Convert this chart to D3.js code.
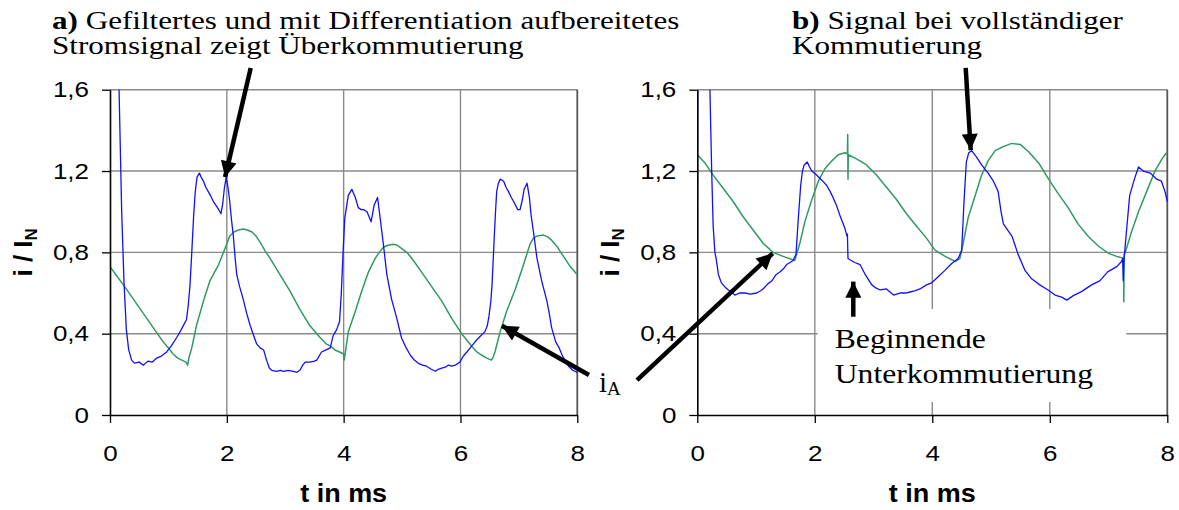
<!DOCTYPE html>
<html><head><meta charset="utf-8">
<script src="https://cdn.jsdelivr.net/npm/d3@7/dist/d3.min.js"></script>
<style>
html,body{margin:0;padding:0;background:#fff;}
svg{display:block;}
</style></head>
<body>
<svg id="c" width="1179" height="510"></svg>
<script>
// ---------- data ----------
const xTicks = [0, 2, 4, 6, 8];
const yTicks = [0, 0.4, 0.8, 1.2, 1.6];
const yTickLabels = ["0", "0,4", "0,8", "1,2", "1,6"];

// panel a) – blue: filtered / differentiated signal, green: i_A
const aBlue = [[0,0.54],[0.01,2.2],[0.12,2.2],[0.155,1.6],[0.2,1.0],[0.24,0.65],[0.28,0.42],[0.32,0.32],[0.37,0.27],[0.42,0.255],[0.5,0.26],[0.57,0.245],[0.65,0.265],[0.72,0.26],[0.8,0.28],[0.88,0.29],[0.97,0.31],[1.05,0.34],[1.14,0.38],[1.22,0.42],[1.31,0.47],[1.34,0.54],[1.37,0.64],[1.40,0.8],[1.43,0.97],[1.46,1.1],[1.49,1.17],[1.53,1.19],[1.56,1.17],[1.6,1.15],[1.64,1.12],[1.68,1.10],[1.72,1.08],[1.77,1.05],[1.84,1.02],[1.9,0.99],[1.93,1.04],[1.96,1.12],[1.99,1.17],[2.02,1.12],[2.05,1.05],[2.08,0.96],[2.11,0.885],[2.14,0.78],[2.17,0.69],[2.22,0.63],[2.28,0.57],[2.34,0.5],[2.4,0.44],[2.46,0.39],[2.51,0.35],[2.57,0.33],[2.63,0.32],[2.68,0.27],[2.73,0.23],[2.77,0.22],[2.85,0.215],[2.92,0.22],[2.97,0.215],[3.05,0.22],[3.14,0.215],[3.2,0.21],[3.25,0.22],[3.3,0.245],[3.34,0.26],[3.42,0.26],[3.5,0.265],[3.54,0.27],[3.62,0.31],[3.7,0.32],[3.77,0.33],[3.82,0.39],[3.88,0.42],[3.93,0.46],[3.96,0.6],[3.99,0.8],[4.02,0.97],[4.08,1.08],[4.14,1.11],[4.2,1.07],[4.25,1.02],[4.3,1.01],[4.34,1.01],[4.4,1.0],[4.47,0.95],[4.52,1.03],[4.58,1.07],[4.62,0.98],[4.68,0.84],[4.74,0.69],[4.82,0.57],[4.91,0.475],[4.99,0.38],[5.07,0.33],[5.14,0.295],[5.21,0.27],[5.28,0.254],[5.35,0.245],[5.42,0.24],[5.5,0.225],[5.57,0.215],[5.62,0.225],[5.68,0.23],[5.74,0.235],[5.79,0.245],[5.85,0.24],[5.91,0.245],[5.99,0.26],[6.05,0.29],[6.11,0.31],[6.18,0.335],[6.25,0.36],[6.33,0.385],[6.42,0.41],[6.46,0.44],[6.49,0.49],[6.52,0.56],[6.54,0.64],[6.56,0.76],[6.58,0.885],[6.6,1.0],[6.62,1.10],[6.65,1.14],[6.68,1.16],[6.74,1.15],[6.78,1.12],[6.82,1.10],[6.87,1.07],[6.91,1.05],[6.98,1.01],[7.02,1.01],[7.06,1.06],[7.09,1.11],[7.14,1.14],[7.18,1.07],[7.21,0.98],[7.25,0.90],[7.31,0.77],[7.39,0.66],[7.48,0.56],[7.52,0.5],[7.56,0.43],[7.63,0.36],[7.69,0.33],[7.74,0.295],[7.8,0.26],[7.85,0.24],[7.92,0.22],[8.0,0.21]];
const aGreen = [[0,0.73],[0.1,0.69],[0.23,0.64],[0.4,0.57],[0.57,0.5],[0.74,0.43],[0.91,0.36],[1.0,0.33],[1.08,0.30],[1.16,0.28],[1.23,0.27],[1.3,0.26],[1.33,0.245],[1.35,0.28],[1.4,0.33],[1.48,0.44],[1.54,0.5],[1.6,0.56],[1.71,0.66],[1.86,0.74],[1.97,0.82],[2.05,0.88],[2.12,0.9],[2.2,0.91],[2.28,0.915],[2.35,0.91],[2.43,0.90],[2.5,0.88],[2.57,0.85],[2.65,0.81],[2.74,0.77],[2.91,0.69],[3.08,0.61],[3.25,0.52],[3.42,0.44],[3.6,0.38],[3.7,0.35],[3.77,0.34],[3.85,0.32],[3.93,0.31],[4.0,0.30],[4.01,0.27],[4.03,0.31],[4.08,0.41],[4.14,0.46],[4.2,0.51],[4.31,0.61],[4.42,0.70],[4.54,0.77],[4.61,0.80],[4.68,0.825],[4.76,0.835],[4.85,0.84],[4.92,0.835],[4.99,0.82],[5.08,0.80],[5.17,0.77],[5.34,0.70],[5.51,0.63],[5.68,0.56],[5.85,0.475],[6.02,0.40],[6.2,0.336],[6.28,0.31],[6.36,0.295],[6.45,0.28],[6.53,0.27],[6.56,0.285],[6.59,0.31],[6.68,0.41],[6.79,0.51],[6.94,0.62],[7.08,0.74],[7.19,0.84],[7.25,0.87],[7.31,0.88],[7.42,0.885],[7.5,0.875],[7.56,0.86],[7.65,0.83],[7.74,0.79],[7.88,0.73],[8.0,0.69]];

// panel b)
const bBlue = [[0,0.81],[0.01,2.2],[0.19,2.2],[0.215,1.6],[0.244,1.21],[0.27,0.93],[0.3,0.8],[0.32,0.77],[0.36,0.69],[0.41,0.65],[0.47,0.63],[0.53,0.615],[0.6,0.6],[0.64,0.59],[0.72,0.6],[0.81,0.6],[0.9,0.595],[1.01,0.6],[1.07,0.61],[1.12,0.62],[1.2,0.645],[1.27,0.66],[1.34,0.69],[1.41,0.705],[1.47,0.72],[1.52,0.74],[1.58,0.75],[1.63,0.76],[1.68,0.79],[1.72,0.97],[1.76,1.13],[1.79,1.2],[1.82,1.23],[1.87,1.245],[1.91,1.22],[1.95,1.2],[2.03,1.18],[2.12,1.155],[2.2,1.13],[2.26,1.1],[2.31,1.07],[2.37,1.03],[2.43,0.98],[2.51,0.92],[2.55,0.877],[2.555,0.89],[2.565,0.77],[2.59,0.765],[2.68,0.75],[2.77,0.74],[2.86,0.69],[2.97,0.64],[3.04,0.625],[3.11,0.615],[3.22,0.62],[3.3,0.6],[3.34,0.59],[3.45,0.6],[3.55,0.6],[3.62,0.605],[3.7,0.61],[3.79,0.62],[3.9,0.64],[3.99,0.65],[4.1,0.68],[4.21,0.71],[4.33,0.745],[4.44,0.77],[4.5,0.81],[4.54,1.05],[4.58,1.245],[4.62,1.29],[4.67,1.30],[4.75,1.27],[4.84,1.23],[4.95,1.19],[5.04,1.15],[5.12,1.10],[5.17,1.0],[5.21,0.94],[5.28,0.91],[5.36,0.877],[5.46,0.79],[5.58,0.71],[5.69,0.67],[5.76,0.655],[5.83,0.64],[5.97,0.615],[6.09,0.59],[6.2,0.58],[6.29,0.565],[6.4,0.587],[6.54,0.607],[6.71,0.64],[6.85,0.66],[6.99,0.705],[7.14,0.73],[7.22,0.755],[7.24,0.77],[7.25,0.66],[7.265,0.77],[7.31,0.92],[7.36,1.08],[7.44,1.16],[7.51,1.22],[7.59,1.2],[7.71,1.19],[7.82,1.16],[7.9,1.15],[7.96,1.1],[8.0,1.05]];
const bGreen = [[0,1.28],[0.13,1.24],[0.27,1.18],[0.44,1.115],[0.61,1.05],[0.78,0.975],[0.95,0.91],[1.12,0.845],[1.29,0.80],[1.46,0.78],[1.66,0.76],[1.75,0.85],[1.83,0.95],[1.95,1.06],[2.06,1.15],[2.17,1.21],[2.29,1.25],[2.4,1.28],[2.51,1.29],[2.555,1.285],[2.56,1.38],[2.565,1.16],[2.57,1.28],[2.71,1.26],[2.88,1.23],[3.05,1.18],[3.22,1.12],[3.39,1.06],[3.56,0.99],[3.73,0.93],[3.9,0.87],[4.05,0.81],[4.22,0.78],[4.39,0.755],[4.47,0.77],[4.53,0.85],[4.61,0.97],[4.73,1.08],[4.84,1.18],[4.95,1.25],[5.07,1.30],[5.21,1.32],[5.35,1.336],[5.5,1.33],[5.64,1.295],[5.81,1.24],[5.98,1.16],[6.14,1.09],[6.32,1.016],[6.48,0.94],[6.66,0.877],[6.83,0.83],[7.0,0.795],[7.14,0.78],[7.22,0.774],[7.255,0.77],[7.26,0.557],[7.265,0.79],[7.28,0.795],[7.39,0.90],[7.51,1.0],[7.65,1.10],[7.79,1.2],[7.91,1.26],[8.0,1.295]];

// ---------- drawing ----------
const svg = d3.select("#c");
const BLUE = "#1010ff", GREEN = "#2f9a62", GRID = "#8a8a8a";
const plotTop = 89.7, plotBottom = 415;
const SX = 1.18; // horizontal stretch of the original figure's lettering

const defs = svg.append("defs");
defs.append("marker").attr("id","ah").attr("viewBox","0 0 10 10")
  .attr("refX",10).attr("refY",5).attr("markerUnits","userSpaceOnUse")
  .attr("markerWidth",19).attr("markerHeight",16).attr("orient","auto")
  .append("path").attr("d","M0,0 L10,5 L0,10 Z").attr("fill","#000");

function panel(id, x0, x1, blue, green){
  const x = d3.scaleLinear().domain([0,8]).range([x0,x1]);
  const y = d3.scaleLinear().domain([0,1.6]).range([plotBottom,plotTop]);
  const g = svg.append("g");
  g.selectAll(".hg").data(yTicks.filter(v=>v>0)).join("line")
    .attr("x1",x(0)).attr("x2",x(8)).attr("y1",d=>y(d)).attr("y2",d=>y(d))
    .attr("stroke",GRID).attr("stroke-width",1.4);
  g.selectAll(".vg").data(xTicks.filter(v=>v>0)).join("line")
    .attr("y1",y(0)).attr("y2",y(1.6)).attr("x1",d=>x(d)).attr("x2",d=>x(d))
    .attr("stroke",d=>d===8?"#555":GRID).attr("stroke-width",d=>d===8?1.8:1.4);
  defs.append("clipPath").attr("id","clip"+id).append("rect")
    .attr("x",x(0)).attr("y",y(1.6)).attr("width",x(8)-x(0)+1).attr("height",y(0)-y(1.6));
  const line = d3.line().x(d=>x(d[0])).y(d=>y(d[1]));
  const cg = g.append("g").attr("clip-path","url(#clip"+id+")");
  cg.append("path").datum(green).attr("d",line).attr("fill","none")
    .attr("stroke",GREEN).attr("stroke-width",1.5).attr("stroke-linejoin","round");
  cg.append("path").datum(blue).attr("d",line).attr("fill","none")
    .attr("stroke",BLUE).attr("stroke-width",1.3).attr("stroke-linejoin","round");
  const ya = d3.axisLeft(y).tickValues(yTicks).tickFormat((d,i)=>yTickLabels[i]).tickSize(8).tickSizeOuter(0).tickPadding(13);
  const xa = d3.axisBottom(x).tickValues(xTicks).tickFormat(d3.format("d")).tickSize(8).tickSizeOuter(0).tickPadding(22);
  const yg = g.append("g").attr("transform",`translate(${x(0)},0)`).call(ya);
  const xg = g.append("g").attr("transform",`translate(0,${y(0)})`).call(xa);
  [yg,xg].forEach(a=>{
    a.select(".domain").attr("stroke","#000").attr("stroke-width",1.6);
    a.selectAll(".tick line").attr("stroke","#000").attr("stroke-width",1.3);
    a.selectAll("text").attr("font-family","Liberation Sans, Arial, sans-serif")
      .attr("font-size",22).attr("fill","#000");
  });
  yg.selectAll("text").attr("x",-21/SX).attr("transform",`scale(${SX},1)`);
  xg.selectAll("text").attr("transform",`scale(${SX},1)`);
  g.append("text").attr("transform",`translate(${(x(0)+x(8))/2},502) scale(1.08,1)`).attr("text-anchor","middle")
    .attr("font-family","Liberation Sans, Arial, sans-serif").attr("font-weight","bold")
    .attr("font-size",25).text("t in ms");
  const yt = g.append("text").attr("transform",`translate(${x(0)-78},${y(0.8)}) rotate(-90)`)
    .attr("text-anchor","middle")
    .attr("font-family","Liberation Sans, Arial, sans-serif").attr("font-weight","bold")
    .attr("font-size",26);
  yt.append("tspan").text("i / I");
  yt.append("tspan").attr("font-size",17).attr("dy",5).text("N");
  return {x,y,g};
}

const A = panel("a", 110, 577.3, aBlue, aGreen);
const B = panel("b", 697.3, 1167.3, bBlue, bGreen);

svg.append("rect").attr("x",B.x(2.05)).attr("y",B.y(0.521))
  .attr("width",B.x(7.3)-B.x(2.05)).attr("height",B.y(0.064)-B.y(0.521)).attr("fill","#fff");

function arrow(p, a, b){
  svg.append("line").attr("x1",p.x(a[0])).attr("y1",p.y(a[1]))
    .attr("x2",p.x(b[0])).attr("y2",p.y(b[1]))
    .attr("stroke","#000").attr("stroke-width",4.5).attr("marker-end","url(#ah)");
}
arrow(A,[2.409,1.707],[1.97,1.17]);
arrow(A,[8.2,0.197],[6.71,0.439]);
arrow(B,[-1.026,0.172],[1.283,0.795]);
arrow(B,[4.568,1.707],[4.654,1.303]);
arrow(B,[2.655,0.4835],[2.655,0.656]);

const serif = "Liberation Serif, Times New Roman, serif";
function stretchedText(x0, yb, size, sx, parts){
  const t = svg.append("text").attr("font-family",serif).attr("font-size",size)
    .attr("transform",`translate(${x0},${yb}) scale(${sx},1)`);
  parts.forEach(p=>{
    const s = t.append("tspan").text(p.t);
    if (p.b) s.attr("font-weight","bold");
  });
  return t;
}
stretchedText(52, 28.5, 25.5, 1.22, [{t:"a)",b:true},{t:" Gefiltertes und mit Differentiation aufbereitetes"}]);
stretchedText(52, 54, 25.5, 1.22, [{t:"Stromsignal zeigt Überkommutierung"}]);
stretchedText(792, 28.5, 25.5, 1.22, [{t:"b)",b:true},{t:" Signal bei vollständiger"}]);
stretchedText(792, 54, 25.5, 1.22, [{t:"Kommutierung"}]);

stretchedText(B.x(2.34), 348, 28, 1.13, [{t:"Beginnende"}]);
stretchedText(B.x(2.34), 383, 28, 1.13, [{t:"Unterkommutierung"}]);
const ia = svg.append("text").attr("x",599).attr("y",392).attr("font-family",serif).attr("font-size",29);
ia.append("tspan").text("i");
ia.append("tspan").attr("font-size",19).attr("dy",3).text("A");
</script>
</body></html>
